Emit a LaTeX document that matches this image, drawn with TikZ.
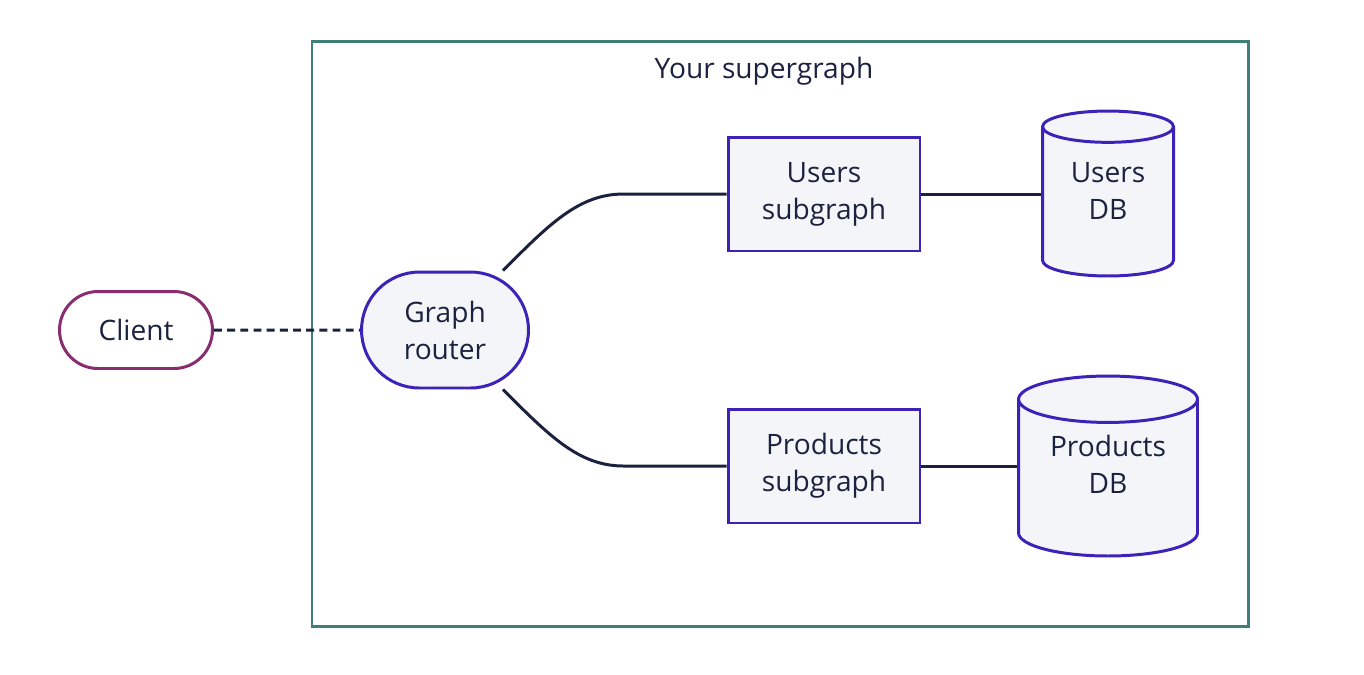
\documentclass[tikz,border=0pt]{standalone}
\usepackage{fontspec}
\setmainfont{Open Sans}
\usetikzlibrary{shapes.geometric}
\usetikzlibrary{shapes.misc}
\definecolor{ink}{HTML}{1B2240}
\definecolor{indigo}{HTML}{3C22B8}
\definecolor{plum}{HTML}{8A2D6E}
\definecolor{frameteal}{HTML}{3F7F79}
\definecolor{paper}{HTML}{F4F5F8}
\tikzset{label text/.style = {text = ink, align = center, font = \fontsize{16pt}{21pt}\selectfont}}
\tikzset{box/.style = {label text, draw = indigo, fill = paper, line width = 1.7pt, minimum width = 3.84cm, minimum height = 2.28cm}}
\tikzset{pill/.style = {label text, rounded rectangle, line width = 1.7pt, inner sep = 0}}
\tikzset{db/.style = {label text, cylinder, shape border rotate = 90, anchor = shape center, draw = indigo, fill = paper, line width = 1.7pt, inner sep = 0}}
\tikzset{link/.style = {draw = ink, line width = 1.7pt}}

\begin{document}
\begin{tikzpicture}[x = 0.02cm, y = -0.02cm]
      \useasboundingbox (0, 0) rectangle (1364, 674);
      \draw [frameteal, line width = 1.7pt] (312, 41) rectangle (1248, 626);
      \node (title) [label text, anchor = base] at (764, 78) {Your supergraph};
      \node (client) [pill, draw = plum, fill = white, minimum width = 3.06cm, minimum height = 1.54cm] at (136, 330) {Client};
      \node (router) [pill, draw = indigo, fill = paper, minimum width = 3.34cm, minimum height = 2.32cm] at (445, 330) {Graph\\router};
      \node (users) [box] at (824, 194) {Users\\subgraph};
      \node (products) [box] at (824, 466) {Products\\subgraph};
      % cylinders sized by a hidden word, the text sits on top
      \node (usersdb) [db, aspect = 0.42, minimum width = 2.62cm, minimum height = 3.3cm] at (1108, 193.5) {\phantom{Users}};
      \node (productsdb) [db, aspect = 0.4, minimum width = 3.58cm, minimum height = 3.6cm] at (1108, 466) {\phantom{Products}};
      \node (usersdbtext) [label text] at (1108, 191) {Users\\DB};
      \node (productsdbtext) [label text] at (1108, 464) {Products\\DB};
      \draw [link, dash pattern = on 4.5pt off 3pt] (client) -- (router);
      \draw [link] ([xshift = 1.16cm]router.north) .. controls +(45:1.3cm) and +(-0.9cm, 0) .. ([xshift = -2.06cm]users.west) -- (users.west);
      \draw [link] ([xshift = 1.16cm]router.south) .. controls +(-45:1.3cm) and +(-0.9cm, 0) .. ([xshift = -2.06cm]products.west) -- (products.west);
      \draw [link] (users.east) -- (users.east -| usersdb.west);
      \draw [link] (products.east) -- (products.east -| productsdb.west);
    \end{tikzpicture}
\end{document}
